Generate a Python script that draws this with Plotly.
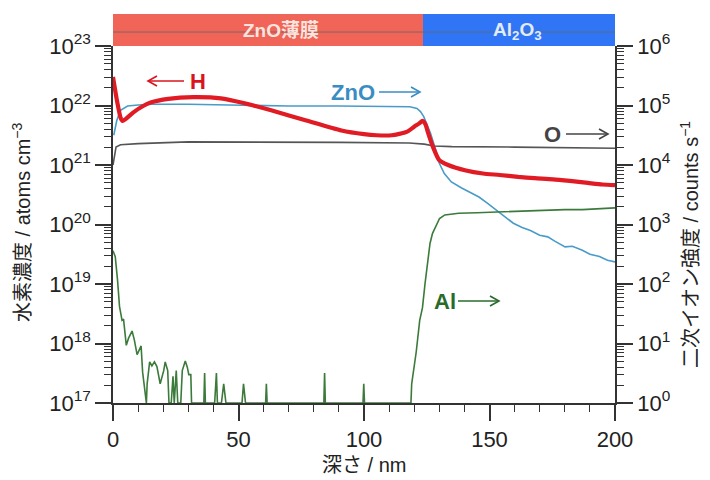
import plotly.graph_objects as go

# ---------------- data ----------------
# Hydrogen concentration (atoms cm^-3), left axis
h_depth = [0, 1.5, 3.0, 3.8, 5, 8, 12, 15, 22, 32, 43, 52, 63, 77, 91, 100, 105, 111, 117, 120,
           122, 123.3, 124.5, 125.5, 127.5, 130, 133.5, 140.6, 147.4, 154, 161.4, 168, 175.3,
           182, 189.2, 195, 200]
h_conc = [3.02e22, 1.26e22, 6.3e21, 5.5e21, 5.9e21, 7.6e21, 9.8e21, 1.12e22, 1.29e22, 1.38e22,
          1.32e22, 1.10e22, 8.3e21, 5.6e21, 3.8e21, 3.3e21, 3.16e21, 3.16e21, 3.6e21, 4.4e21,
          5.0e21, 5.5e21, 4.8e21, 3.5e21, 2.0e21, 1.2e21, 1.0e21, 8.1e20, 7.2e20, 6.8e20, 6.3e20,
          6.0e20, 5.75e20, 5.4e20, 5.0e20, 4.7e20, 4.6e20]

# ZnO secondary ion intensity (counts s^-1), right axis
zno_depth = [0.3, 1.5, 3.0, 5.8, 10, 15.4, 30, 50, 70, 90, 110, 118.3, 121.1, 122.5, 123.8, 125.2,
             126.5, 128.6, 130, 132, 134.8, 138.9, 142, 145.8, 149, 152.7, 156, 159.5, 163, 166.3,
             170, 173.2, 176, 180.1, 183, 187, 190, 193.8, 197, 200]
zno_counts = [31600, 56000, 83000, 98000, 102000, 105000, 105000, 100000, 98000, 98000, 95500,
              95500, 89000, 79000, 65000, 48000, 34000, 17800, 10700, 7200, 5200, 4100, 3550,
              2900, 2300, 1740, 1320, 1050, 890, 790, 660, 620, 525, 420, 430, 370, 316, 290, 250,
              235]

# O secondary ion intensity (counts s^-1), right axis
o_depth = [0, 0.5, 1.2, 3, 10, 30, 60, 90, 118, 124, 128, 135, 160, 180, 200]
o_counts = [10000, 14100, 20000, 21900, 22900, 24500, 24500, 24000, 23400, 22400, 20900, 20400,
            20000, 19500, 19100]

# Al secondary ion intensity (counts s^-1), right axis
al_depth = [0, 0.9, 1.8, 2.6, 3.6, 4.2, 5.3, 6.2, 7.6, 8.5, 9.6, 10.4, 11.2, 11.8, 12.9, 13.3,
            13.6, 14.6, 15.5, 16.5, 17.5, 18.8, 20.2, 20.8, 21.8, 22.3, 23.2, 23.9, 24.4, 25.2,
            25.8, 27.0, 27.6, 28.8, 29.6, 30.2, 31.0, 31.3, 36.2, 36.5, 36.8, 40.5, 41.2, 41.6,
            43.2, 44.1, 45.0, 51.4, 52.0, 52.8, 60.8, 61.1, 61.4, 84.0, 84.3, 84.6, 99.6, 99.9,
            100.2, 118.7, 119.0, 120.8, 122.2, 123.3, 124.3, 125.3, 126.3, 127.3, 128.6, 130.1,
            132.2, 137.7, 145, 152.7, 159.5, 166, 173.2, 180, 187, 193, 200]
al_counts = [363, 288, 117, 41.7, 24.5, 25.7, 9.3, 12.3, 16.2, 11.5, 6.5, 7.8, 9.1, 3.3, 1.26, 1,
             2.1, 4.9, 4.2, 4.9, 4.1, 2.1, 3.5, 4.9, 3.5, 1, 1, 2.8, 1, 3.5,
             1, 1, 3.5, 5.1, 4.0, 3.0, 3.0, 1, 1, 3.2, 1, 1, 3.2, 1,
             1, 2.1, 1, 1, 2.1, 1, 1, 2.1, 1, 1, 3.2, 1, 1, 2.1,
             1, 1, 2.1, 7.2, 24.5, 40, 100, 250, 480, 710, 955, 1260,
             1450, 1550, 1580, 1620, 1700, 1700, 1780, 1780, 1780, 1820, 1900]

# tick labels
x_ticks = [0, 50, 100, 150, 200]
x_minor = [10, 20, 30, 40, 60, 70, 80, 90, 110, 120, 130, 140, 160, 170, 180, 190]
h_exps = [17, 18, 19, 20, 21, 22, 23]
cnt_exps = [0, 1, 2, 3, 4, 5, 6]

# layers (band above the plot)
layer_names = ["ZnO薄膜", "Al<sub>2</sub>O<sub>3</sub>"]
layer_bounds = [0, 123.5, 200]

# ---------------- figure ----------------
FONT = "Arial, 'Liberation Sans', 'Noto Sans CJK JP', sans-serif"
AX = "#333333"

OFF = 8  # page body margin
PAGE_W, PAGE_H = 710, 480
W, H = PAGE_W - OFF, PAGE_H - OFF
# target plot area in page pixels: x 113..615, y 46..403
PX0, PX1, PY0, PY1 = 113, 615, 46, 403
L, T = PX0 - OFF, PY0 - OFF
R, B = W - (PX1 - OFF), H - (PY1 - OFF)
PW, PH = PX1 - PX0, PY1 - PY0


def fx(px):
    return (px - PX0) / PW


def fy(py):
    return (PY1 - py) / PH


fig = go.Figure()

fig.add_trace(go.Scatter(x=zno_depth, y=zno_counts, mode="lines", yaxis="y",
                         line=dict(color="#4A9BC9", width=1.6), name="ZnO"))
fig.add_trace(go.Scatter(x=o_depth, y=o_counts, mode="lines", yaxis="y",
                         line=dict(color="#555555", width=1.6), name="O"))
fig.add_trace(go.Scatter(x=al_depth, y=al_counts, mode="lines", yaxis="y",
                         line=dict(color="#3B7A3B", width=1.6), name="Al"))
fig.add_trace(go.Scatter(x=h_depth, y=h_conc, mode="lines", yaxis="y2",
                         line=dict(color="#E01B24", width=4.2, shape="spline", smoothing=0.6),
                         name="H"))


def minor_vals(exps):
    out = []
    for e in exps[:-1]:
        for k in range(2, 10):
            out.append(k * 10.0 ** e)
    return out


tickfont = dict(family=FONT, size=22, color="#222222")

fig.update_layout(
    width=W, height=H,
    margin=dict(l=L, r=R, t=T, b=B, autoexpand=False),
    paper_bgcolor="white", plot_bgcolor="white",
    showlegend=False,
    font=dict(family=FONT, color="#222222"),
    xaxis=dict(range=[0, 200], tickvals=x_ticks, ticks="outside", ticklen=16, tickwidth=1.5,
               tickcolor=AX, showline=True, linecolor=AX, linewidth=1.5, showgrid=False,
               zeroline=False, tickfont=tickfont,
               minor=dict(tickvals=x_minor, ticks="outside", ticklen=7, tickwidth=1.3,
                          tickcolor=AX)),
    yaxis=dict(type="log", side="right", range=[0, 6],
               tickvals=[10.0 ** e for e in cnt_exps],
               ticktext=["10<sup>%d</sup>" % e for e in cnt_exps],
               ticks="outside", ticklen=16, tickwidth=1.5, tickcolor=AX,
               showline=True, linecolor=AX, linewidth=1.5, showgrid=False, zeroline=False,
               tickfont=tickfont,
               minor=dict(tickvals=minor_vals(cnt_exps), ticks="outside", ticklen=7,
                          tickwidth=1.2, tickcolor=AX)),
    yaxis2=dict(type="log", side="left", overlaying="y", range=[17, 23],
                tickvals=[10.0 ** e for e in h_exps],
                ticktext=["10<sup>%d</sup>" % e for e in h_exps],
                ticks="outside", ticklen=16, tickwidth=1.5, tickcolor=AX,
                showline=True, linecolor=AX, linewidth=1.5, showgrid=False, zeroline=False,
                tickfont=tickfont,
                minor=dict(tickvals=minor_vals(h_exps), ticks="outside", ticklen=7,
                           tickwidth=1.2, tickcolor=AX)),
)

shapes = []
annotations = []


def note(text, x, y, size, color, xref="paper", angle=0):
    annotations.append(dict(text=text, xref=xref, yref="paper", x=x, y=y, showarrow=False,
                            xanchor="center", yanchor="middle", textangle=angle,
                            font=dict(family=FONT, size=size, color=color)))


# layer band
band_colors = ["rgb(241,101,88)", "rgb(47,117,246)"]
band_text_colors = ["rgb(252,228,222)", "rgb(226,236,255)"]
band_top = fy(14)
for i in range(2):
    shapes.append(dict(type="rect", xref="x", yref="paper", x0=layer_bounds[i],
                       x1=layer_bounds[i + 1], y0=1.0, y1=band_top,
                       fillcolor=band_colors[i], line=dict(width=0), layer="above"))
shapes.append(dict(type="line", xref="paper", yref="paper", x0=0, x1=1, y0=fy(32), y1=fy(32),
                   line=dict(color="rgba(105,105,105,0.85)", width=1)))
band_text_x = [67, 161]
for i in range(2):
    note("<b>%s</b>" % layer_names[i], band_text_x[i], fy(31), 19, band_text_colors[i],
         xref="x")


def arrow(x0, x1, y, color, head_right=True):
    shapes.append(dict(type="line", xref="paper", yref="paper", x0=fx(x0), x1=fx(x1),
                       y0=fy(y), y1=fy(y), line=dict(color=color, width=1.6)))
    tip = x1 if head_right else x0
    back = tip - 9 if head_right else tip + 9
    path = "M %f,%f L %f,%f L %f,%f" % (fx(back), fy(y - 5), fx(tip), fy(y), fx(back), fy(y + 5))
    shapes.append(dict(type="path", xref="paper", yref="paper", path=path,
                       line=dict(color=color, width=1.6)))


def label(text, xc, y, color):
    note("<b>%s</b>" % text, fx(xc), fy(y), 22, color)


red, blue, gray, green = "#D9141E", "#3A8DC2", "#444444", "#2A6B2A"
arrow(148, 184, 81, red, head_right=False)
label("H", 198, 81, red)
label("ZnO", 353, 92, blue)
arrow(379, 420, 92, blue)
label("O", 552, 134, gray)
arrow(566, 608, 134, gray)
label("Al", 445, 301, green)
arrow(458, 499, 301, green)

# axis titles
note("深さ / nm", 0.5, fy(465), 20, "#222222")
note("水素濃度 / atoms cm<sup>−3</sup>", fx(21), fy(222), 20, "#222222", angle=-90)
note("二次イオン強度 / counts s<sup>−1</sup>", fx(689), fy(245), 20, "#222222", angle=-90)

fig.update_layout(shapes=shapes, annotations=annotations)
fig.write_html("out.html")
